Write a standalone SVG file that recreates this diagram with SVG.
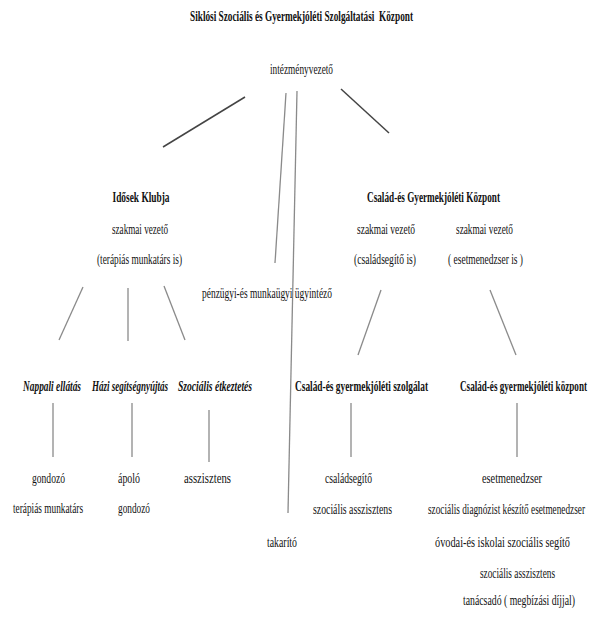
<svg xmlns="http://www.w3.org/2000/svg" width="601" height="627" viewBox="0 0 601 627">
<style>
text{font-family:"Liberation Serif","Times New Roman",serif;font-size:15px;fill:#111;text-anchor:middle}
.b{font-weight:bold}
.bi{font-weight:bold;font-style:italic}
.c line{stroke:#8a8a8a;stroke-width:1.3;fill:none}
.c line.d{stroke:#444;stroke-width:1.5}
</style>
<rect width="601" height="627" fill="#fff"/>
<g id="connectors" class="c">
<line class="d" x1="245" y1="97" x2="163" y2="147"/>
<line class="d" x1="341" y1="89" x2="389" y2="133"/>
<line x1="286" y1="93" x2="275" y2="263"/>
<line x1="297" y1="91" x2="288" y2="513"/>
<line x1="83" y1="287" x2="59" y2="340"/>
<line x1="128" y1="288" x2="128" y2="341"/>
<line x1="164" y1="286" x2="185" y2="340"/>
<line x1="381" y1="290" x2="358" y2="355"/>
<line x1="490" y1="290" x2="516" y2="355"/>
<line x1="53" y1="403" x2="53" y2="457"/>
<line x1="132" y1="403" x2="132" y2="457"/>
<line x1="209" y1="410" x2="209" y2="462"/>
<line x1="351" y1="403" x2="351" y2="457"/>
<line x1="517" y1="403" x2="517" y2="457"/>
</g>
<g id="title"><text class="b" transform="translate(301.5,21) scale(0.62,1)" textLength="359.7" lengthAdjust="spacingAndGlyphs">Siklósi Szociális és Gyermekjóléti Szolgáltatási&#160; Központ</text></g>
<g id="intezmenyvezeto"><text transform="translate(301.5,74) scale(0.62,1)" textLength="101.6" lengthAdjust="spacingAndGlyphs">intézményvezető</text></g>
<g id="idosek-klubja">
<text class="b" transform="translate(141,202) scale(0.62,1)" textLength="91.9" lengthAdjust="spacingAndGlyphs">Idősek Klubja</text>
<text transform="translate(140,234) scale(0.62,1)" textLength="90.3" lengthAdjust="spacingAndGlyphs">szakmai vezető</text>
<text transform="translate(139.5,264) scale(0.62,1)" textLength="137.1" lengthAdjust="spacingAndGlyphs">(terápiás munkatárs is)</text>
</g>
<g id="penzugyi"><text transform="translate(267,298) scale(0.62,1)" textLength="209.7" lengthAdjust="spacingAndGlyphs">pénzügyi-és munkaügyi ügyintéző</text></g>
<g id="csgyk">
<text class="b" transform="translate(433.5,202) scale(0.62,1)" textLength="214.5" lengthAdjust="spacingAndGlyphs">Család-és Gyermekjóléti Központ</text>
</g>
<g id="szakmai-vezeto-csaladsegito">
<text transform="translate(386,234) scale(0.62,1)" textLength="93.5" lengthAdjust="spacingAndGlyphs">szakmai vezető</text>
<text transform="translate(385,264) scale(0.62,1)" textLength="100" lengthAdjust="spacingAndGlyphs">(családsegítő is)</text>
</g>
<g id="szakmai-vezeto-esetmenedzser">
<text transform="translate(484.5,234) scale(0.62,1)" textLength="91.9" lengthAdjust="spacingAndGlyphs">szakmai vezető</text>
<text transform="translate(485.5,264) scale(0.62,1)" textLength="121" lengthAdjust="spacingAndGlyphs">( esetmenedzser is )</text>
</g>
<g id="nappali-ellatas">
<text class="bi" transform="translate(52,391) scale(0.62,1)" textLength="93.5" lengthAdjust="spacingAndGlyphs">Nappali ellátás</text>
</g>
<g id="nappali-staff">
<text transform="translate(48.5,483) scale(0.62,1)" textLength="53.2" lengthAdjust="spacingAndGlyphs">gondozó</text>
<text transform="translate(48,513) scale(0.62,1)" textLength="112.9" lengthAdjust="spacingAndGlyphs">terápiás munkatárs</text>
</g>
<g id="hazi-segitsegnyujtas">
<text class="bi" transform="translate(130,391) scale(0.62,1)" textLength="122.6" lengthAdjust="spacingAndGlyphs">Házi segítségnyújtás</text>
</g>
<g id="hazi-staff">
<text transform="translate(129,483) scale(0.62,1)" textLength="35.5" lengthAdjust="spacingAndGlyphs">ápoló</text>
<text transform="translate(134,513) scale(0.62,1)" textLength="51.6" lengthAdjust="spacingAndGlyphs">gondozó</text>
</g>
<g id="szocialis-etkeztetes">
<text class="bi" transform="translate(215,391) scale(0.62,1)" textLength="119.4" lengthAdjust="spacingAndGlyphs">Szociális étkeztetés</text>
</g>
<g id="etkeztetes-staff">
<text transform="translate(207.5,483) scale(0.62,1)" textLength="75.8" lengthAdjust="spacingAndGlyphs">asszisztens</text>
</g>
<g id="csgy-szolgalat">
<text class="b" transform="translate(361.5,391) scale(0.62,1)" textLength="214.5" lengthAdjust="spacingAndGlyphs">Család-és gyermekjóléti szolgálat</text>
</g>
<g id="szolgalat-staff">
<text transform="translate(348.5,483) scale(0.62,1)" textLength="75.8" lengthAdjust="spacingAndGlyphs">családsegítő</text>
<text transform="translate(352.5,514) scale(0.62,1)" textLength="127.4" lengthAdjust="spacingAndGlyphs">szociális asszisztens</text>
</g>
<g id="csgy-kozpont">
<text class="b" transform="translate(523.5,391) scale(0.62,1)" textLength="204.8" lengthAdjust="spacingAndGlyphs">Család-és gyermekjóléti központ</text>
</g>
<g id="kozpont-staff">
<text transform="translate(512,483) scale(0.62,1)" textLength="96.8" lengthAdjust="spacingAndGlyphs">esetmenedzser</text>
<text transform="translate(506.5,514) scale(0.62,1)" textLength="253.2" lengthAdjust="spacingAndGlyphs">szociális diagnózist készítő esetmenedzser</text>
<text transform="translate(502.5,547) scale(0.62,1)" textLength="217.7" lengthAdjust="spacingAndGlyphs">óvodai-és iskolai szociális segítő</text>
<text transform="translate(517.5,578) scale(0.62,1)" textLength="121" lengthAdjust="spacingAndGlyphs">szociális asszisztens</text>
<text transform="translate(519,605) scale(0.62,1)" textLength="180.6" lengthAdjust="spacingAndGlyphs">tanácsadó ( megbízási díjjal)</text>
</g>
<g id="takarito"><text transform="translate(282,547) scale(0.62,1)" textLength="48.4" lengthAdjust="spacingAndGlyphs">takarító</text></g>
</svg>
